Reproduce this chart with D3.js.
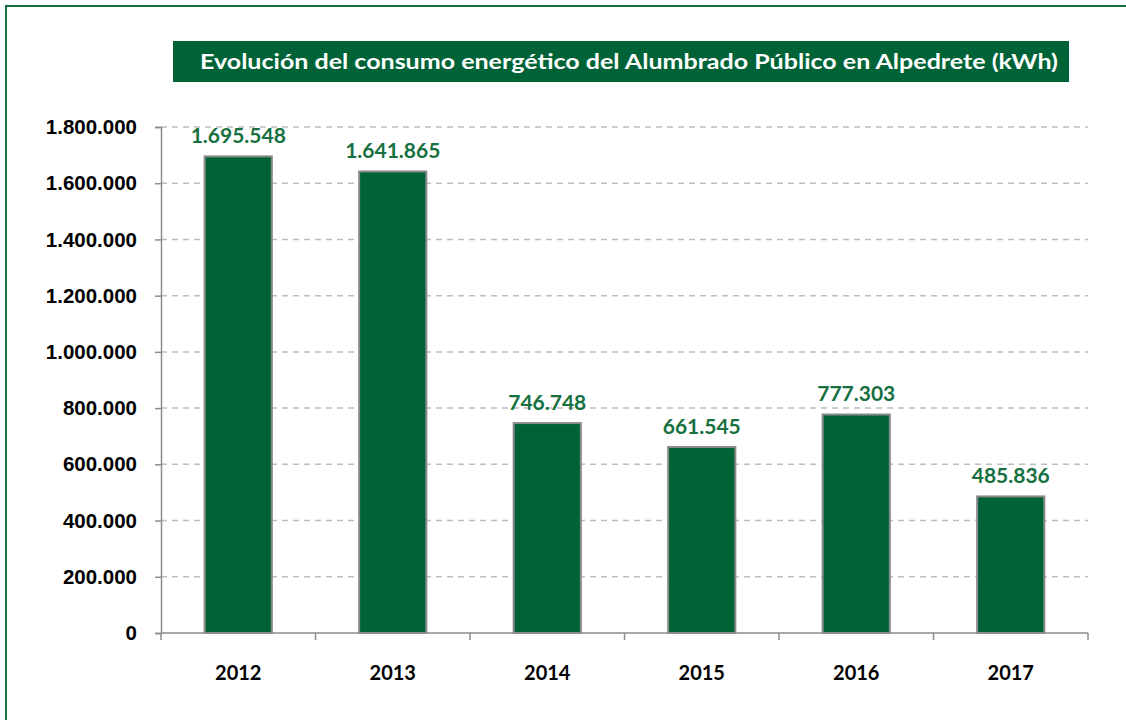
<!DOCTYPE html>
<html>
<head>
<meta charset="utf-8">
<script src="https://cdn.jsdelivr.net/npm/d3@7"></script>
<style>
  body { margin: 0; background: #fff; }
  svg { font-family: Lato, "Open Sans", sans-serif; }
</style>
</head>
<body>
<div id="chart"></div>
<script>
// Data
var years = ["2012", "2013", "2014", "2015", "2016", "2017"];
var consumo = [1695548, 1641865, 746748, 661545, 777303, 485836];
var yTicks = [0, 200000, 400000, 600000, 800000, 1000000, 1200000, 1400000, 1600000, 1800000];
var titulo = "Evolución del consumo energético del Alumbrado Público en Alpedrete (kWh)";

var W = 1126, H = 720;
var margin = {top: 127, right: 38, bottom: 87, left: 161},
    width = W - margin.left - margin.right,
    height = H - margin.top - margin.bottom;

var green = "#006338";

var svgRoot = d3.select("#chart")
    .append("svg")
        .attr("width", W)
        .attr("height", H);

// outer frame
svgRoot.append("rect")
    .attr("x", 6).attr("y", 6)
    .attr("width", W + 10).attr("height", H + 10)
    .attr("fill", "none")
    .attr("stroke", "#1a6e43")
    .attr("stroke-width", 2);

// title box
svgRoot.append("rect")
    .attr("x", 173).attr("y", 41)
    .attr("width", 896).attr("height", 41)
    .attr("fill", green);

svgRoot.append("text")
    .attr("x", 200).attr("y", 69)
    .attr("fill", "#fff")
    .attr("textLength", 858)
    .attr("lengthAdjust", "spacingAndGlyphs")
    .style("font-size", "21px")
    .style("font-weight", "bold")
    .text(titulo);

var svg = svgRoot.append("g")
    .attr("transform", "translate(" + margin.left + "," + margin.top + ")");

var x = d3.scaleBand()
    .domain(years)
    .range([0, width])
    .paddingInner(0.565)
    .paddingOuter(0.2825);

var xOuter = d3.scaleBand().domain(years).range([0, width]);

var y = d3.scaleLinear()
    .domain([0, 1800000])
    .range([height, 0]);

var fmt = function(v) {
    return d3.format(",")(v).replace(/,/g, ".");
};

// gridlines
svg.append("g")
    .selectAll("line")
    .data(yTicks.filter(d => d > 0))
    .enter().append("line")
    .attr("x1", 0).attr("x2", width)
    .attr("y1", d => y(d)).attr("y2", d => y(d))
    .attr("stroke", "#bdbdbd")
    .attr("stroke-width", 1.5)
    .attr("stroke-dasharray", "6,5");

// y axis
var yAxis = svg.append("g")
    .call(d3.axisLeft(y).tickValues(yTicks).tickSize(6).tickPadding(18).tickFormat(fmt));
yAxis.select(".domain").attr("stroke", "#8c8c8c").attr("stroke-width", 1.5);
yAxis.selectAll(".tick line").attr("stroke", "#8c8c8c").attr("stroke-width", 1.5);
yAxis.selectAll("text")
    .style("font-size", "20.5px")
    .style("font-weight", "bold")
    .attr("fill", "#000");

// bars
svg.append("g")
    .selectAll("rect")
    .data(consumo)
    .enter().append("rect")
    .attr("x", (d, i) => x(years[i]))
    .attr("y", d => y(d))
    .attr("width", x.bandwidth())
    .attr("height", d => height - y(d))
    .attr("fill", green)
    .attr("stroke", "#8a8a8a")
    .attr("stroke-width", 2);

// x axis line + boundary ticks
svg.append("line")
    .attr("x1", 0).attr("x2", width)
    .attr("y1", height).attr("y2", height)
    .attr("stroke", "#8c8c8c").attr("stroke-width", 1.5);

svg.append("g")
    .selectAll("line")
    .data(years.map(d => xOuter(d)).concat([width]))
    .enter().append("line")
    .attr("x1", d => d).attr("x2", d => d)
    .attr("y1", height).attr("y2", height + 7)
    .attr("stroke", "#8c8c8c").attr("stroke-width", 1.5);

// x labels
svg.append("g")
    .selectAll("text")
    .data(years)
    .enter().append("text")
    .attr("x", d => xOuter(d) + xOuter.bandwidth() / 2)
    .attr("y", height + 47)
    .attr("text-anchor", "middle")
    .style("font-size", "20px")
    .style("font-weight", "bold")
    .text(d => d);

// value labels
svg.append("g")
    .selectAll("text")
    .data(consumo)
    .enter().append("text")
    .attr("x", (d, i) => x(years[i]) + x.bandwidth() / 2)
    .attr("y", d => y(d) - 13)
    .attr("text-anchor", "middle")
    .attr("fill", "#17703f")
    .style("font-size", "21px")
    .style("font-weight", "bold")
    .text(d => fmt(d));
</script>
</body>
</html>
